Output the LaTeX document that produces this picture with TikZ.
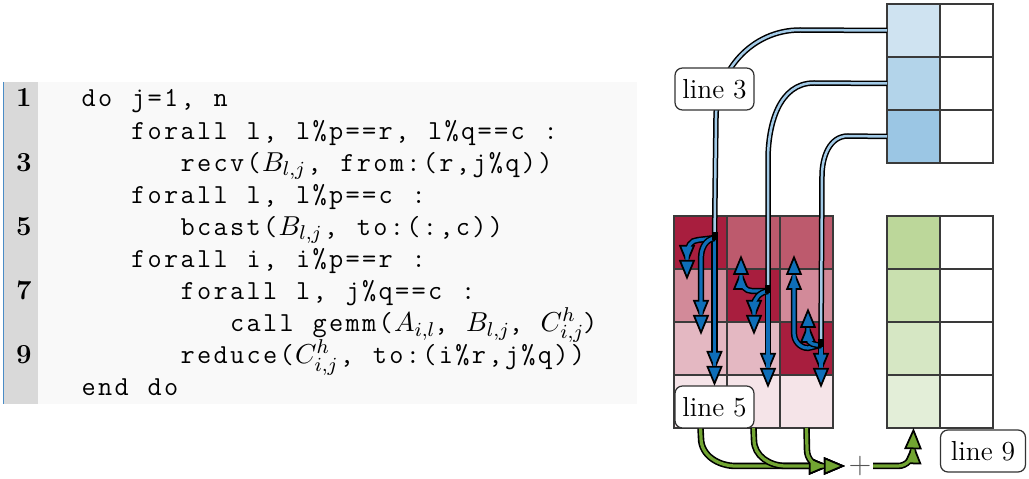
\documentclass[tikz,border=0pt]{standalone}
\usetikzlibrary{arrows.meta}

% palette
\definecolor{codebg}{HTML}{F9F9F9}
\definecolor{gutter}{HTML}{D9D9D9}
\definecolor{gutterrule}{HTML}{4A8CC6}
\definecolor{gridline}{HTML}{3A3A3A}
\definecolor{bA}{HTML}{CFE3F1}
\definecolor{bB}{HTML}{B3D4EA}
\definecolor{bC}{HTML}{9BC6E4}
\definecolor{rDark}{HTML}{A81E3E}
\definecolor{rMid}{HTML}{BD5A6D}
\definecolor{rLight}{HTML}{D28A99}
\definecolor{rPale}{HTML}{E4B8C2}
\definecolor{rFaint}{HTML}{F5E4E8}
\definecolor{gA}{HTML}{BCD79A}
\definecolor{gB}{HTML}{C9E0AF}
\definecolor{gC}{HTML}{D6E7C4}
\definecolor{gD}{HTML}{E3EED8}
\definecolor{cableblue}{HTML}{A3CBE8}
\definecolor{arrowblue}{HTML}{0E6EB8}
\definecolor{arrowgreen}{HTML}{72A532}
\definecolor{plusgray}{HTML}{555555}

% fixed-pitch typewriter text: every character sits in a box of one column
\newlength\colw
\setlength\colw{6.6pt}
\makeatletter
\def\cc@end{\cc@end@}
\def\cc@loop#1{\ifx#1\cc@end\else\makebox[\colw]{\ttfamily#1}\expandafter\cc@loop\fi}
\newcommand\codetxt[1]{\cc@loop#1\cc@end}
\makeatother

\begin{document}
\begin{tikzpicture}[x=0.4pt,y=-0.4pt,
  font=\fontsize{11}{13}\selectfont,
  cell/.style={draw=gridline,line width=0.45pt,minimum width=21.2pt,
    minimum height=21.2pt,inner sep=0pt,outer sep=0pt,anchor=north west},
  codeline/.style={anchor=base west,inner sep=0pt},
  lineno/.style={anchor=base east,inner sep=0pt,font=\fontsize{11}{13}\selectfont\bfseries},
  tag/.style={draw=black!80,line width=0.5pt,fill=white,rounded corners=3pt,
    minimum width=31.6pt,minimum height=16.8pt,inner sep=1pt},
  cable/.style={draw=cableblue,line width=1pt,
    preaction={draw=black,line width=2.2pt}},
  barrow/.style={draw=arrowblue,line width=1.3pt,
    -{Triangle[length=8pt,width=6.4pt,fill=arrowblue,color=black,line width=0.7pt]},
    preaction={draw=black,line width=2.5pt,shorten >=6pt}},
  garrow/.style={draw=arrowgreen,line width=1.3pt,
    -{Triangle[length=8.5pt,width=7pt,fill=arrowgreen,color=black,line width=0.7pt]},
    preaction={draw=black,line width=2.6pt,shorten >=6pt}},
]
\useasboundingbox (0,0) rectangle (1029,479);

% ---------- code listing ----------
\fill[codebg] (38,82) rectangle (637,404);
\fill[gutter] (3,82) rectangle (38,404);
\draw[gutterrule,line width=0.5pt] (3.5,82) -- (3.5,404);

\node[lineno] (n1) at (32,107.0) {1};
\node[lineno] (n3) at (32,171.2) {3};
\node[lineno] (n5) at (32,235.4) {5};
\node[lineno] (n7) at (32,299.6) {7};
\node[lineno] (n9) at (32,363.8) {9};

\node[codeline] (c1) at (80,107.0) {\codetxt{do~j=1,~n}};
\node[codeline] (c2) at (129.5,139.1) {\codetxt{forall~l,~l\%p==r,~l\%q==c~:}};
\node[codeline] (c3) at (179,171.2) {\codetxt{recv(}$B_{l,j}$\codetxt{,~from:(r,j\%q))}};
\node[codeline] (c4) at (129.5,203.3) {\codetxt{forall~l,~l\%p==c~:}};
\node[codeline] (c5) at (179,235.4) {\codetxt{bcast(}$B_{l,j}$\codetxt{,~to:(:,c))}};
\node[codeline] (c6) at (129.5,267.5) {\codetxt{forall~i,~i\%p==r~:}};
\node[codeline] (c7) at (179,299.6) {\codetxt{forall~l,~j\%q==c~:}};
\node[codeline] (c8) at (228.5,331.7) {\codetxt{call~gemm(}$A_{i,l}$\kern-1pt\codetxt{,~}$B_{l,j}$\kern-1pt\codetxt{,~}$C^h_{i,j}$\kern-1pt\codetxt{)}};
\node[codeline] (c9) at (179,363.8) {\codetxt{reduce(}$C^h_{i,j}$\codetxt{,~to:(i\%r,j\%q))}};
\node[codeline] (c10) at (80,395.9) {\codetxt{end~do}};

% ---------- blue matrix (3 x 2) ----------
\node[cell,fill=bA] (b11) at (887,4) {};
\node[cell,fill=white] (b12) at (940,4) {};
\node[cell,fill=bB] (b21) at (887,57) {};
\node[cell,fill=white] (b22) at (940,57) {};
\node[cell,fill=bC] (b31) at (887,110) {};
\node[cell,fill=white] (b32) at (940,110) {};

% ---------- red matrix (4 x 3) ----------
\node[cell,fill=rDark]  (r11) at (674,216) {};
\node[cell,fill=rMid]   (r12) at (727,216) {};
\node[cell,fill=rMid]   (r13) at (780,216) {};
\node[cell,fill=rLight] (r21) at (674,269) {};
\node[cell,fill=rDark]  (r22) at (727,269) {};
\node[cell,fill=rLight] (r23) at (780,269) {};
\node[cell,fill=rPale]  (r31) at (674,322) {};
\node[cell,fill=rPale]  (r32) at (727,322) {};
\node[cell,fill=rDark]  (r33) at (780,322) {};
\node[cell,fill=rFaint] (r41) at (674,375) {};
\node[cell,fill=rFaint] (r42) at (727,375) {};
\node[cell,fill=rFaint] (r43) at (780,375) {};

% ---------- green matrix (4 x 2) ----------
\node[cell,fill=gA] (g11) at (887,216) {};
\node[cell,fill=white] (g12) at (940,216) {};
\node[cell,fill=gB] (g21) at (887,269) {};
\node[cell,fill=white] (g22) at (940,269) {};
\node[cell,fill=gC] (g31) at (887,322) {};
\node[cell,fill=white] (g32) at (940,322) {};
\node[cell,fill=gD] (g41) at (887,375) {};
\node[cell,fill=white] (g42) at (940,375) {};

% ---------- receive cables ----------
\coordinate (j1) at (714.5,238);
\coordinate (j2) at (768,291);
\coordinate (j3) at (821,345);

\draw[cable] (b11.west) -- (800,30) to[out=180,in=90] (716,118) -- (j1);
\draw[cable] (b21.west) -- (814,83) to[out=180,in=90] (768,160) -- (j2);
\draw[cable] (b31.west) -- (848,136) to[out=180,in=90] (822,176) -- (j3);

% ---------- broadcast arrows ----------
\coordinate (t1a) at (714.5,386);
\coordinate (t1b) at (687,280);
\coordinate (t1c) at (701,335);
\draw[barrow] (j1) -- (t1a);
\draw[barrow] (j1) -- (698,240) to[out=180,in=90] (687,254) -- (t1b);
\draw[barrow] (j1) to[out=190,in=90] (701,258) -- (t1c);

\coordinate (t2a) at (768,388);
\coordinate (t2b) at (741,255);
\coordinate (t2c) at (754,335);
\draw[barrow] (j2) -- (t2a);
\draw[barrow] (j2) -- (752,291) to[out=180,in=-90] (741,279) -- (t2b);
\draw[barrow] (j2) to[out=190,in=90] (754,306) -- (t2c);

\coordinate (t3a) at (821,388);
\coordinate (t3b) at (794,255);
\coordinate (t3c) at (808,308);
\draw[barrow] (j3) -- (t3a);
\draw[barrow] (j3) -- (808,348) to[out=180,in=-90] (794,333) -- (t3b);
\draw[barrow] (j3) to[out=185,in=-90] (808,338) -- (t3c);

% junction caps
\foreach \j in {j1,j2,j3}
  \fill[black] ([xshift=-1.2pt,yshift=2.2pt]\j) rectangle ([xshift=1.2pt,yshift=-1pt]\j);

% ---------- reduction arrows ----------
\node[text=plusgray,inner sep=0pt,font=\fontsize{13}{15}\selectfont] (plus) at (860,466) {$+$};
\coordinate (gsum) at (845,466);
\coordinate (gfrom) at (873,466);
\draw[garrow] (r41.south) -- (701,438) to[out=-90,in=180] (736,466) -- (gsum);
\draw[garrow] (r42.south) -- (754,440) to[out=-90,in=180] (786,466) -- (gsum);
\draw[garrow] (r43.south) -- (807,450) to[out=-90,in=180] (822,466) -- (gsum);
\draw[garrow] (gfrom) -- (898,466) to[out=0,in=-90] (913,450) -- (g41.south);

% ---------- line tags ----------
\node[tag] (tag3) at (714.5,89) {line 3};
\node[tag] (tag5) at (714.5,407) {line 5};
\node[tag,minimum width=34pt] (tag9) at (983,451) {line 9};
\end{tikzpicture}
\end{document}
